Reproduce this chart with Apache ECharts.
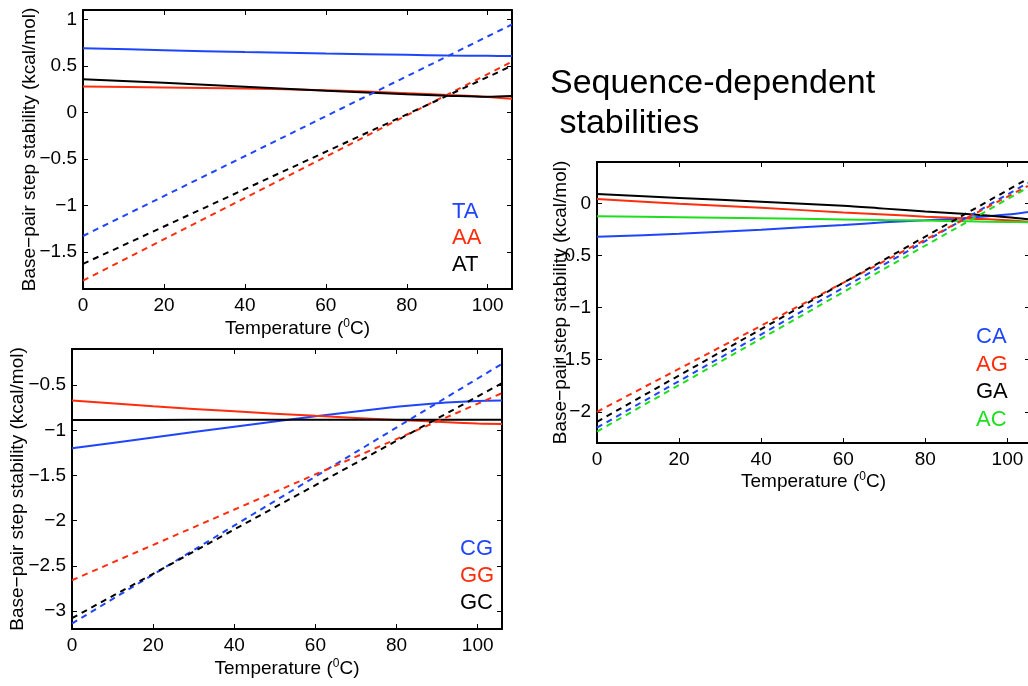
<!DOCTYPE html>
<html><head><meta charset="utf-8">
<script src="https://cdn.jsdelivr.net/npm/echarts@6/dist/echarts.min.js"></script>
<style>html,body{margin:0;padding:0;background:#fff}#c{width:1028px;height:686px}</style>
</head><body><div id="c"></div>
<script>
// ---- Panel 1 (TA, AA, AT) ----
const tempA = [0, 20, 40, 60, 80, 90, 100, 106];
const TA_solid = [0.69, 0.668, 0.648, 0.632, 0.618, 0.611, 0.607, 0.605];
const AA_solid = [0.278, 0.268, 0.256, 0.238, 0.205, 0.187, 0.165, 0.145];
const AT_solid = [0.356, 0.318, 0.275, 0.232, 0.193, 0.178, 0.166, 0.174];
const tempA_lin = [0, 106];
const TA_dash = [-1.33, 0.945];
const AA_dash = [-1.81, 0.545];
const AT_dash = [-1.63, 0.50];

// ---- Panel 2 (CG, GG, GC) ----
const tempB = [0, 20, 40, 60, 80, 90, 100, 106];
const CG_solid = [-1.2, -1.08, -0.96, -0.845, -0.74, -0.70, -0.675, -0.67];
const GG_solid = [-0.67, -0.735, -0.79, -0.84, -0.885, -0.905, -0.925, -0.93];
const GC_solid = [-0.885, -0.885, -0.884, -0.884, -0.883, -0.883, -0.882, -0.882];
const tempB_lin = [0, 106];
const CG_dash = [-3.14, -0.264];
const GG_dash = [-2.66, -0.589];
const GC_dash = [-3.08, -0.478];

// ---- Panel 3 (CA, AG, GA, AC) ----
const tempC = [0, 20, 40, 60, 70, 80, 90, 100, 105];
const CA_solid = [-0.318, -0.29, -0.25, -0.205, -0.18, -0.16, -0.137, -0.105, -0.08];
const AG_solid = [0.045, 0.0, -0.04, -0.085, -0.105, -0.125, -0.143, -0.16, -0.175];
const GA_solid = [0.092, 0.055, 0.018, -0.02, -0.048, -0.075, -0.1, -0.13, -0.15];
const AC_solid = [-0.121, -0.13, -0.14, -0.152, -0.158, -0.163, -0.17, -0.176, -0.18];
const tempC_lin = [0, 105];
const CA_dash = [-2.153, 0.2];
const AG_dash = [-2.0, 0.17];
const GA_dash = [-2.096, 0.24];
const AC_dash = [-2.19, 0.155];

const yName = 'Base\u2212pair step stability (kcal/mol)';
const titleLines = ['Sequence-dependent', ' stabilities'];

const FONT = '"Liberation Sans", Arial, Helvetica, sans-serif';
const BLUE = '#1f45fc', RED = '#ff2d0d', BLACK = '#000000', GREEN = '#1ede1e';

function pairs(xs, ys) { return xs.map((x, i) => [x, ys[i]]); }
function fmtY(v) {
  const r = Math.round(v * 2) / 2;
  if (Math.abs(v - r) > 1e-6) return '';
  return String(r === 0 ? 0 : r).replace('-', '\u2212');
}
function fmtX(v) { return (Math.abs(v % 20) < 1e-6) ? String(v) : ''; }

const axisLine = { show: true, onZero: false, lineStyle: { color: '#000', width: 2 } };
const axisTick = { show: true, inside: true, length: 5, lineStyle: { color: '#000', width: 1 } };

function xPair(gi, max, gap) {
  return [
    { type: 'value', gridIndex: gi, position: 'bottom', min: 0, max: max, interval: 20,
      axisLine: axisLine, axisTick: axisTick, splitLine: { show: false },
      axisLabel: { formatter: fmtX, fontSize: 19, color: '#000', margin: 7, fontFamily: FONT },
      name: '{a|Temperature (}{s|0}{a|C)}', nameLocation: 'middle', nameGap: gap, nameMoveOverlap: false,
      nameTextStyle: { fontFamily: FONT, color: '#000',
        rich: { a: { fontSize: 19, lineHeight: 22, fontFamily: FONT, color: '#000' },
                s: { fontSize: 12, lineHeight: 12, verticalAlign: 'top', fontFamily: FONT, color: '#000' } } } },
    { type: 'value', gridIndex: gi, position: 'top', min: 0, max: max, interval: 20,
      axisLine: axisLine, axisTick: axisTick, splitLine: { show: false }, axisLabel: { show: false } }
  ];
}
function yPair(gi, min, max, gap) {
  return [
    { type: 'value', gridIndex: gi, position: 'left', min: min, max: max, splitNumber: 5,
      axisLine: axisLine, axisTick: axisTick, splitLine: { show: false },
      axisLabel: { formatter: fmtY, fontSize: 19, color: '#000', margin: 6, fontFamily: FONT },
      name: yName, nameLocation: 'middle', nameGap: gap, nameMoveOverlap: false,
      nameTextStyle: { fontSize: 19, color: '#000', fontFamily: FONT } },
    { type: 'value', gridIndex: gi, position: 'right', min: min, max: max, splitNumber: 5,
      axisLine: axisLine, axisTick: axisTick, splitLine: { show: false }, axisLabel: { show: false } }
  ];
}
function line(ai, name, xs, ys, color, dashed) {
  return { type: 'line', name: name, xAxisIndex: ai, yAxisIndex: ai, data: pairs(xs, ys),
    showSymbol: false, symbol: 'none', smooth: dashed ? false : 0.3, silent: true,
    lineStyle: { color: color, width: 2, type: dashed ? [6, 5] : 'solid' },
    itemStyle: { color: color }, z: dashed ? 3 : 2 };
}
function legend(left, top, gap, items) {
  return { left: left, top: top, orient: 'vertical', icon: 'none', itemWidth: 0, itemHeight: 14,
    itemGap: gap, padding: 0, selectedMode: false,
    textStyle: { fontSize: 22, lineHeight: 22, fontFamily: FONT },
    data: items.map(it => ({ name: it[0], textStyle: { color: it[1], fontSize: 22, fontFamily: FONT } })) };
}

const option = {
  animation: false,
  backgroundColor: '#fff',
  title: { text: titleLines.join('\n'), left: 550, top: 64, padding: 0,
    textStyle: { fontSize: 34, fontWeight: 'normal', lineHeight: 40, color: '#000', fontFamily: FONT } },
  grid: [
    { left: 83, top: 10, width: 429, height: 279, outerBoundsMode: 'none' },
    { left: 72, top: 349, width: 430, height: 280, outerBoundsMode: 'none' },
    { left: 597, top: 162, width: 433, height: 281, outerBoundsMode: 'none' }
  ],
  xAxis: [].concat(xPair(0, 106, 29), xPair(1, 106, 29), xPair(2, 105.5, 28)),
  yAxis: [].concat(yPair(0, -1.9, 1.1, 44), yPair(1, -3.2, -0.1, 45), yPair(2, -2.3, 0.4, 27)),
  legend: [
    legend(447, 201, 4.3, [['TA', BLUE], ['AA', RED], ['AT', BLACK]]),
    legend(455, 538, 5.2, [['CG', BLUE], ['GG', RED], ['GC', BLACK]]),
    legend(971, 326, 5.5, [['CA', BLUE], ['AG', RED], ['GA', BLACK], ['AC', GREEN]])
  ],
  series: [
    line(0, 'TA', tempA, TA_solid, BLUE, false),
    line(0, 'AA', tempA, AA_solid, RED, false),
    line(0, 'AT', tempA, AT_solid, BLACK, false),
    line(0, 'TA dashed', tempA_lin, TA_dash, BLUE, true),
    line(0, 'AA dashed', tempA_lin, AA_dash, RED, true),
    line(0, 'AT dashed', tempA_lin, AT_dash, BLACK, true),

    line(2, 'CG', tempB, CG_solid, BLUE, false),
    line(2, 'GG', tempB, GG_solid, RED, false),
    line(2, 'GC', tempB, GC_solid, BLACK, false),
    line(2, 'CG dashed', tempB_lin, CG_dash, BLUE, true),
    line(2, 'GG dashed', tempB_lin, GG_dash, RED, true),
    line(2, 'GC dashed', tempB_lin, GC_dash, BLACK, true),

    line(4, 'CA', tempC, CA_solid, BLUE, false),
    line(4, 'AG', tempC, AG_solid, RED, false),
    line(4, 'GA', tempC, GA_solid, BLACK, false),
    line(4, 'AC', tempC, AC_solid, GREEN, false),
    line(4, 'CA dashed', tempC_lin, CA_dash, BLUE, true),
    line(4, 'AG dashed', tempC_lin, AG_dash, RED, true),
    line(4, 'GA dashed', tempC_lin, GA_dash, BLACK, true),
    line(4, 'AC dashed', tempC_lin, AC_dash, GREEN, true)
  ]
};
const chart = echarts.init(document.getElementById('c'), null, { renderer: 'canvas' });
chart.setOption(option);
</script></body></html>
